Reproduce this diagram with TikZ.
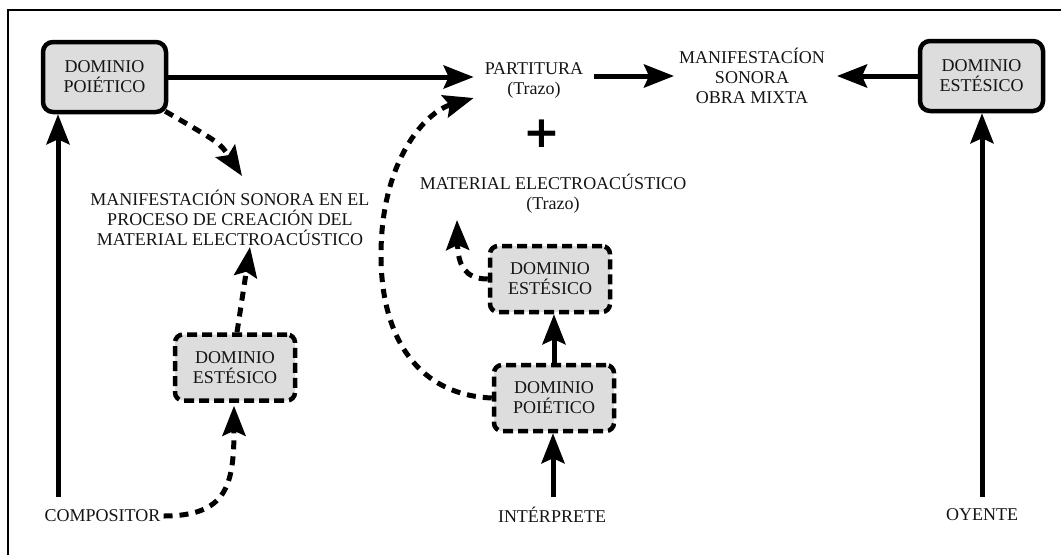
\documentclass[tikz,border=0pt]{standalone}
\usepackage{fontspec}
\setmainfont{Liberation Serif}
\newfontfamily\plusfont{DejaVu Sans}
\usetikzlibrary{arrows.meta,calc}
\definecolor{boxfill}{RGB}{221,221,221}
\definecolor{ink}{RGB}{20,20,20}
\begin{document}
\begin{tikzpicture}[x=1pt,y=-1pt,
  txt/.style={align=center,text=ink,font=\fontsize{18}{20}\selectfont,inner sep=3pt},
  solidbox/.style={txt,draw=black,fill=boxfill,line width=4.5pt,rounded corners=10pt,
    minimum width=123pt,minimum height=70pt},
  dashbox/.style={txt,draw=black,fill=boxfill,line width=4.5pt,rounded corners=8pt,
    dash pattern=on 10pt off 5pt,minimum width=120pt,minimum height=66pt},
  tip/.style={-{Stealth[length=30pt,width=23pt,inset=5pt]}},
  arr/.style={tip,line width=5pt},
  darr/.style={tip,line width=5pt,dash pattern=on 9pt off 7pt}]
\useasboundingbox (0,0) rectangle (1061,555);
% frame (top and left edges)
\draw[line width=2pt] (8,555) -- (8,10) -- (1061,10);

% nodes
\node[solidbox] (DP1) at (104.5,77) {DOMINIO\\POIÉTICO};
\node[solidbox] (DE1) at (981.5,76) {DOMINIO\\ESTÉSICO};
\node[txt,inner xsep=11pt] (PART) at (534,80) {PARTITURA\\(Trazo)};
\node[txt,inner xsep=5pt] (MSOM) at (752,76) {MANIFESTACÍON\\SONORA\\OBRA MIXTA};
\node[txt,font=\plusfont\bfseries\fontsize{44}{44}\selectfont,text=black] (PLUS) at (541.5,134) {+};
\node[txt] (MEA) at (553,194) {MATERIAL ELECTROACÚSTICO\\(Trazo)};
\node[txt] (MSC) at (230,218) {MANIFESTACIÓN SONORA EN EL\\PROCESO DE CREACIÓN DEL\\MATERIAL ELECTROACÚSTICO};
\node[dashbox] (DE2) at (235,367.5) {DOMINIO\\ESTÉSICO};
\node[dashbox] (DE3) at (550,279) {DOMINIO\\ESTÉSICO};
\node[dashbox] (DP3) at (554,398) {DOMINIO\\POIÉTICO};
\node[txt] (COMP) at (102.5,516) {COMPOSITOR};
\node[txt] (INT) at (552,515) {INTÉRPRETE};
\node[txt] (OYE) at (982,515) {OYENTE};

% helper points
\coordinate (compTop) at ($(COMP)+(-44.5,-19)$);
\coordinate (intTop) at ($(INT)+(1,-18)$);
\coordinate (oyeTop) at ($(OYE)+(0,-18)$);
\coordinate (msomR) at ($(MSOM.east)+(7,0)$);
\coordinate (bendA) at (381,255);

% solid connectors
\draw[arr] (compTop) -- (compTop |- DP1.south);
\draw[arr] (DP1.east) -- (DP1.east -| PART.west);
\draw[arr] (PART.east |- MSOM.west) -- (MSOM.west);
\draw[arr] (DE1.west) -- (DE1.west -| msomR);
\draw[arr] (oyeTop) -- (oyeTop |- DE1.south);
\draw[arr] (DP3.north) -- (DP3.north |- DE3.south);
\draw[arr] (intTop) -- (intTop |- DP3.south);

% dashed connectors
\draw[darr] ($(DP1.south east)+(-3,-3)$) .. controls +(55,32) .. ($(MSC)+(12,-42)$);
\draw[darr] ($(DE2.north)+(2,0)$) -- ($(MSC)+(20,29)$);
\draw[darr] (COMP.east) .. controls +(63,0) and +(0,80) .. ($(DE2.south)+(-1,3)$);
\draw[darr] (DP3.west) .. controls +(-72,-3) and +(0,85) .. (bendA)
  .. controls +(0,-95) and +(-48,14) .. ($(PART.west)+(0,18)$);
\draw[darr] (DE3.west) .. controls +(-23,0) and +(1,45) .. ($(MEA)+(-96,26)$);
\end{tikzpicture}
\end{document}
